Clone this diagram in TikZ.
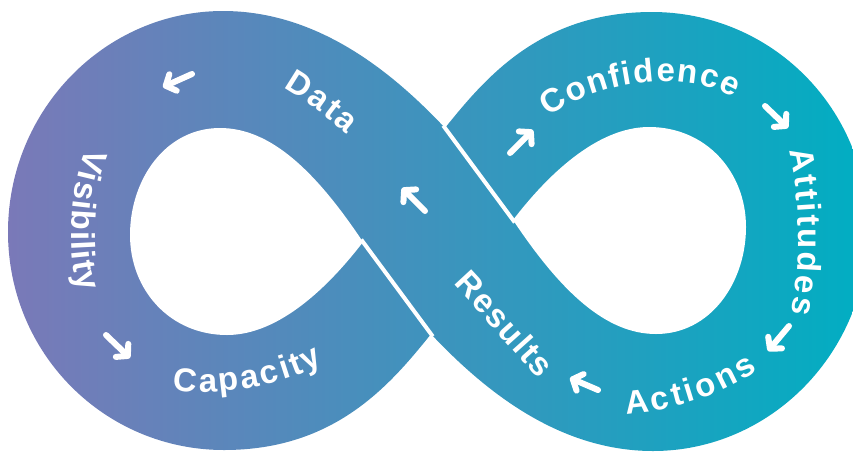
\documentclass[tikz,border=0pt]{standalone}
\usepackage{fontspec}
\setmainfont{Liberation Sans}
\usetikzlibrary{arrows.meta,decorations.text}
\definecolor{bandleft}{RGB}{122,121,184}
\definecolor{bandright}{RGB}{0,174,194}
\newcommand{\bandfont}{\fontsize{33}{33}\selectfont\bfseries\color{white}}
\tikzset{
  flowarrow/.style={white, line width=6pt, line cap=round, -{Straight Barb[length=8pt,width=18pt,round]}},
  bandlabel/.style={decoration={text along path, text align={fit to path}, text={|\bandfont|#1}}, decorate},
  gapline/.style={white, line width=4pt, shorten <=-3pt, shorten >=-3pt},
}

\begin{document}
\begin{tikzpicture}[x=1pt,y=-1pt]
\useasboundingbox (0,0) rectangle (853,451);
\clip (0,0) rectangle (853,451);
% the band
\shade[left color=bandleft, right color=bandright]
  (445,128) .. controls (395,75) and (320,11) .. (223,11)
  .. controls (105,11) and (8,110) .. (8,232)
  .. controls (8,354) and (105,450) .. (224,450)
  .. controls (335,450) and (390,385) .. (431,334)
  .. controls (481,387) and (556,451) .. (653,451)
  .. controls (771,451) and (868,352) .. (868,230)
  .. controls (868,108) and (771,12) .. (652,12)
  .. controls (541,12) and (486,77) .. cycle;
% holes
\fill[white] (363,242) .. controls (315,170) and (270,128) .. (220,128)
  .. controls (165,128) and (130,180) .. (130,235)
  .. controls (130,290) and (170,335) .. (227,335)
  .. controls (280,335) and (330,285) .. cycle;
\fill[white] (513,220) .. controls (561,292) and (606,334) .. (656,334)
  .. controls (711,334) and (746,282) .. (746,227)
  .. controls (746,172) and (706,127) .. (649,127)
  .. controls (596,127) and (546,177) .. cycle;
% crossing
\draw[gapline] (363,242) -- (431,334);
\draw[gapline] (445,128) -- (513,220);

% labels
\path[bandlabel=Data] (283,88) .. controls (305,101) and (326,116) .. (347,134);
\path[bandlabel=Visibility] (87,148) .. controls (72,180) and (64,250) .. (80,292);
\path[bandlabel=Capacity] (173,390) .. controls (215,398) and (285,385) .. (323,363);
\path[bandlabel=Confidence] (549,117) .. controls (600,78) and (690,70) .. (734,98);
\path[bandlabel=Attitudes] (789,151) .. controls (800,195) and (802,265) .. (791,313);
\path[bandlabel=Actions] (626,414) .. controls (670,411) and (720,397) .. (758,370);
\path[bandlabel=Results] (453,284) .. controls (482,315) and (510,347) .. (539,379);

% arrows
\draw[flowarrow] (192,74) -- (163,87);
\draw[flowarrow] (106,335) -- (130,358);
\draw[flowarrow] (425,211) -- (402,188);
\draw[flowarrow] (510,153) -- (533,130);
\draw[flowarrow] (765,106) -- (788,128);
\draw[flowarrow] (789,326) -- (768,351);
\draw[flowarrow] (598,390) -- (570,378);
\end{tikzpicture}
\end{document}
